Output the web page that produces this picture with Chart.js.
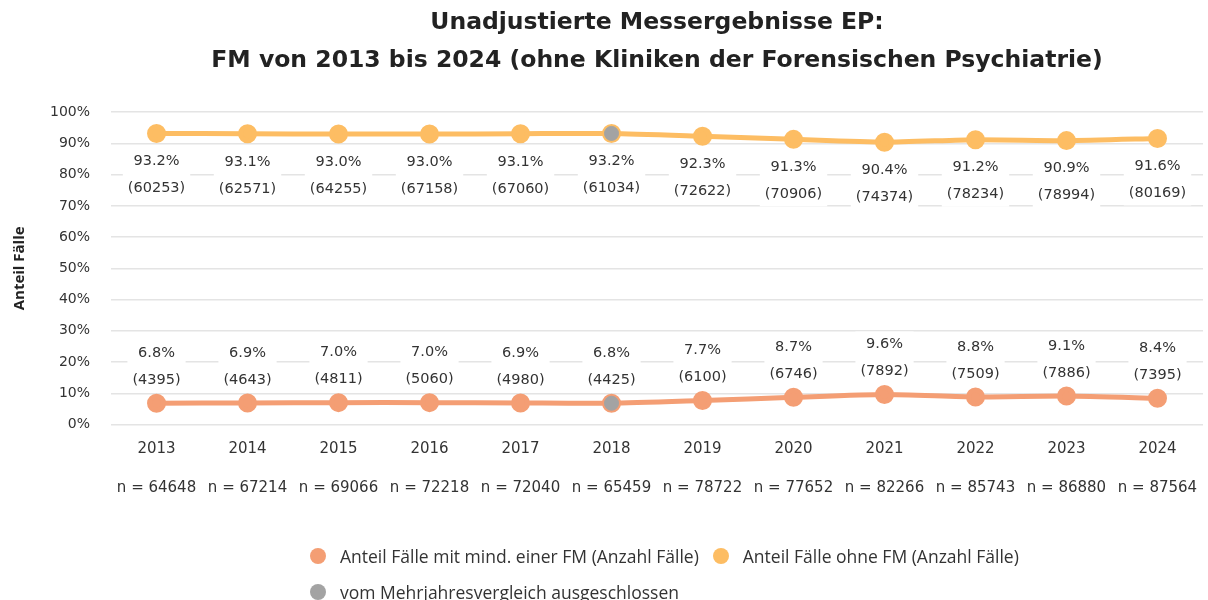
<!DOCTYPE html>
<html lang="de">
<head>
  <meta charset="UTF-8" />
  <title>Unadjustierte Messergebnisse EP</title>
  <script src="https://cdn.jsdelivr.net/npm/chart.js"></script>
  <style>
    body { margin: 0; background: #fff; font-family: "Open Sans", sans-serif; }
    .wrap { position: relative; width: 1208px; height: 600px; }
    .legend {
      position: absolute; left: 310px; top: 544px; width: 760px;
      display: flex; flex-wrap: wrap; row-gap: 12px; column-gap: 14px;
      font-size: 17.5px; line-height: 24px; color: #333;
    }
    .legend span.item { display: inline-flex; align-items: center; }
    .legend i { display: inline-block; width: 16px; height: 16px; border-radius: 50%; margin-right: 14px; }
  </style>
</head>
<body>
  <div class="wrap">
    <canvas id="fmChart" width="1208" height="600"></canvas>
    <div class="legend" id="legend"></div>
  </div>

  <script>
    const years = ['2013', '2014', '2015', '2016', '2017', '2018', '2019', '2020', '2021', '2022', '2023', '2024'];
    const nTotal = [64648, 67214, 69066, 72218, 72040, 65459, 78722, 77652, 82266, 85743, 86880, 87564];
    const shareWithFM = [6.8, 6.9, 7.0, 7.0, 6.9, 6.8, 7.7, 8.7, 9.6, 8.8, 9.1, 8.4];
    const countWithFM = [4395, 4643, 4811, 5060, 4980, 4425, 6100, 6746, 7892, 7509, 7886, 7395];
    const shareWithoutFM = [93.2, 93.1, 93.0, 93.0, 93.1, 93.2, 92.3, 91.3, 90.4, 91.2, 90.9, 91.6];
    const countWithoutFM = [60253, 62571, 64255, 67158, 67060, 61034, 72622, 70906, 74374, 78234, 78994, 80169];
    const excludedYears = ['2018'];
    const yTicks = [0, 10, 20, 30, 40, 50, 60, 70, 80, 90, 100];

    const colWith = '#F49E74';
    const colWithout = '#FDBD63';
    const colExcluded = '#A3A3A3';

    // x labels: year, blank line, case count
    const xLabels = years.map((y, i) => [y, '', 'n = ' + nTotal[i]]);

    // grey markers for the excluded year, sitting on both lines
    const excludedPoints = [];
    excludedYears.forEach(y => {
      const i = years.indexOf(y);
      excludedPoints.push({ x: xLabels[i], y: shareWithoutFM[i] });
      excludedPoints.push({ x: xLabels[i], y: shareWithFM[i] });
    });

    // value labels with white box: below points for the upper series, above for the lower one
    const valueLabels = {
      id: 'valueLabels',
      afterDatasetsDraw(chart) {
        const ctx = chart.ctx;
        ctx.save();
        ctx.font = '14.5px "DejaVu Sans", sans-serif';
        ctx.textAlign = 'center';
        ctx.textBaseline = 'middle';
        [[0, shareWithFM, countWithFM, -1], [1, shareWithoutFM, countWithoutFM, 1]].forEach(([di, shares, counts, dir]) => {
          const meta = chart.getDatasetMeta(di);
          meta.data.forEach((pt, i) => {
            const l1 = shares[i].toFixed(1) + '%';
            const l2 = '(' + counts[i] + ')';
            const cy = dir > 0 ? pt.y + 41 : pt.y - 37;
            const w = Math.max(ctx.measureText(l1).width, ctx.measureText(l2).width) + 10;
            ctx.fillStyle = '#fff';
            ctx.fillRect(pt.x - w / 2, cy - 26, w, 52);
            ctx.fillStyle = '#333';
            ctx.fillText(l1, pt.x, cy - 13);
            ctx.fillText(l2, pt.x, cy + 14);
          });
        });
        ctx.restore();
      }
    };

    const chart = new Chart(document.getElementById('fmChart'), {
      type: 'line',
      data: {
        labels: xLabels,
        datasets: [
          {
            label: 'Anteil Fälle mit mind. einer FM (Anzahl Fälle)',
            data: shareWithFM,
            borderColor: colWith,
            backgroundColor: colWith,
            borderWidth: 5,
            pointRadius: 7,
            pointHoverRadius: 7,
            tension: 0.2
          },
          {
            label: 'Anteil Fälle ohne FM (Anzahl Fälle)',
            data: shareWithoutFM,
            borderColor: colWithout,
            backgroundColor: colWithout,
            borderWidth: 5,
            pointRadius: 7,
            pointHoverRadius: 7,
            tension: 0.2
          },
          {
            label: 'vom Mehrjahresvergleich ausgeschlossen',
            data: excludedPoints,
            showLine: false,
            borderColor: colExcluded,
            backgroundColor: colExcluded,
            pointRadius: 7,
            pointHoverRadius: 7,
            order: -1
          }
        ]
      },
      options: {
        responsive: false,
        animation: false,
        layout: { autoPadding: false, padding: { left: 5, right: 5, top: 4, bottom: 95 } },
        plugins: {
          legend: { display: false },
          tooltip: { enabled: false },
          title: {
            display: true,
            fullSize: false,
            text: ['Unadjustierte Messergebnisse EP:', 'FM von 2013 bis 2024 (ohne Kliniken der Forensischen Psychiatrie)'],
            color: '#222',
            font: { family: 'DejaVu Sans', size: 23.5, weight: 'bold', lineHeight: 1.6 },
            padding: { top: 0, bottom: 33 }
          }
        },
        scales: {
          x: {
            offset: true,
            afterFit: s => { s.paddingLeft = 0; s.paddingRight = 0; },
            grid: { display: false },
            border: { display: false },
            ticks: {
              color: '#333',
              padding: 7,
              maxRotation: 0,
              autoSkip: false,
              font: { family: 'DejaVu Sans', size: 15, lineHeight: 1.3 }
            }
          },
          y: {
            min: 0,
            max: 100,
            afterBuildTicks: axis => { axis.ticks = yTicks.map(v => ({ value: v })); },
            grid: { color: '#E4E4E4', lineWidth: 1.5, drawTicks: false },
            border: { display: false },
            ticks: {
              color: '#333',
              padding: 21,
              font: { family: 'DejaVu Sans', size: 14 },
              callback: v => v + '%'
            },
            title: {
              display: true,
              text: 'Anteil Fälle',
              color: '#222',
              font: { family: 'Open Sans', size: 15, weight: 'bold' },
              padding: { top: 6, bottom: 0 }
            }
          }
        }
      },
      plugins: [valueLabels]
    });

    // html legend, laid out in two rows like the original
    const legendEl = document.getElementById('legend');
    chart.data.datasets.forEach(ds => {
      const item = document.createElement('span');
      item.className = 'item';
      item.innerHTML = '<i style="background:' + ds.backgroundColor + '"></i>' + ds.label;
      legendEl.appendChild(item);
    });
  </script>
</body>
</html>
